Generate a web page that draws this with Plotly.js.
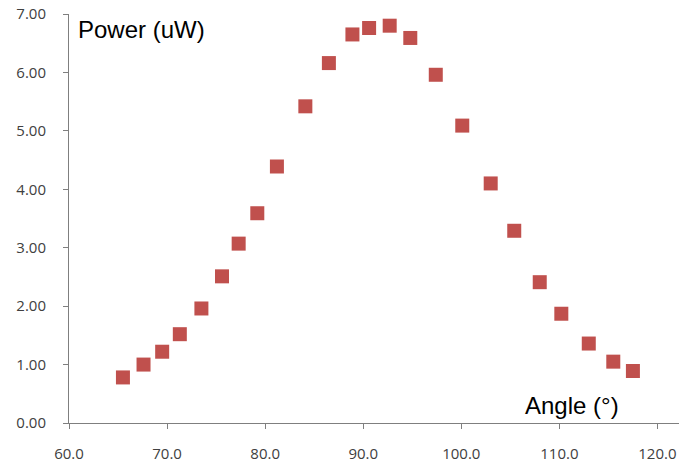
<!DOCTYPE html>
<html>
<head>
<meta charset="utf-8">
<script src="https://cdn.plot.ly/plotly-3.0.1.min.js"></script>
<style>html,body{margin:0;padding:0;background:#fff;}#chart{width:679px;height:465px;}</style>
</head>
<body>
<div id="chart"></div>
<script>
const angle = [65.5, 67.6, 69.5, 71.3, 73.5, 75.6, 77.3, 79.2, 81.2, 84.1, 86.5, 88.9, 90.6, 92.7, 94.8, 97.4, 100.1, 103.0, 105.4, 108.0, 110.2, 113.0, 115.5, 117.5];
const power = [0.78, 1.00, 1.22, 1.52, 1.96, 2.51, 3.07, 3.59, 4.39, 5.42, 6.16, 6.65, 6.76, 6.80, 6.59, 5.96, 5.09, 4.10, 3.29, 2.41, 1.87, 1.36, 1.05, 0.89];
const xTicks = [60, 70, 80, 90, 100, 110, 120];
const xTickText = ["60.0", "70.0", "80.0", "90.0", "100.0", "110.0", "120.0"];
const yTicks = [0, 1, 2, 3, 4, 5, 6, 7];
const yTickText = ["0.00", "1.00", "2.00", "3.00", "4.00", "5.00", "6.00", "7.00"];
const yLabel = "Power (uW)";
const xLabel = "Angle (°)";

const trace = {
  x: angle, y: power, type: 'scatter', mode: 'markers',
  marker: {symbol: 'square', size: 14, color: '#C0504D', line: {width: 0}},
  hoverinfo: 'skip'
};
const tickFont = {family: 'Open Sans, Liberation Sans, sans-serif', size: 15, color: '#404040'};
const layout = {
  width: 679, height: 465,
  margin: {l: 69, r: 0, t: 14, b: 42, pad: 0},
  paper_bgcolor: '#fff', plot_bgcolor: '#fff',
  showlegend: false,
  xaxis: {
    range: [60, 122.2], tickmode: 'array', tickvals: xTicks, ticktext: xTickText,
    showgrid: false, zeroline: false, showline: true, linecolor: '#7f7f7f', linewidth: 1,
    ticks: 'outside', ticklen: 5, tickcolor: '#7f7f7f', tickfont: tickFont, ticklabelstandoff: 12
  },
  yaxis: {
    range: [0, 7], tickmode: 'array', tickvals: yTicks, ticktext: yTickText,
    showgrid: false, zeroline: false, showline: true, linecolor: '#7f7f7f', linewidth: 1,
    ticks: 'outside', ticklen: 5, tickcolor: '#7f7f7f', tickfont: tickFont, ticklabelstandoff: 14
  },
  annotations: [
    {text: yLabel, xref: 'paper', yref: 'paper', x: 0.012, y: 0.961, xanchor: 'left', yanchor: 'middle',
     showarrow: false, font: {family: 'Liberation Sans, Arial, sans-serif', size: 24, color: '#000'}},
    {text: xLabel, xref: 'paper', yref: 'paper', x: 0.745, y: 0.044, xanchor: 'left', yanchor: 'middle',
     showarrow: false, font: {family: 'Liberation Sans, Arial, sans-serif', size: 24, color: '#000'}}
  ]
};
Plotly.newPlot('chart', [trace], layout, {displayModeBar: false, staticPlot: true});
</script>
</body>
</html>
